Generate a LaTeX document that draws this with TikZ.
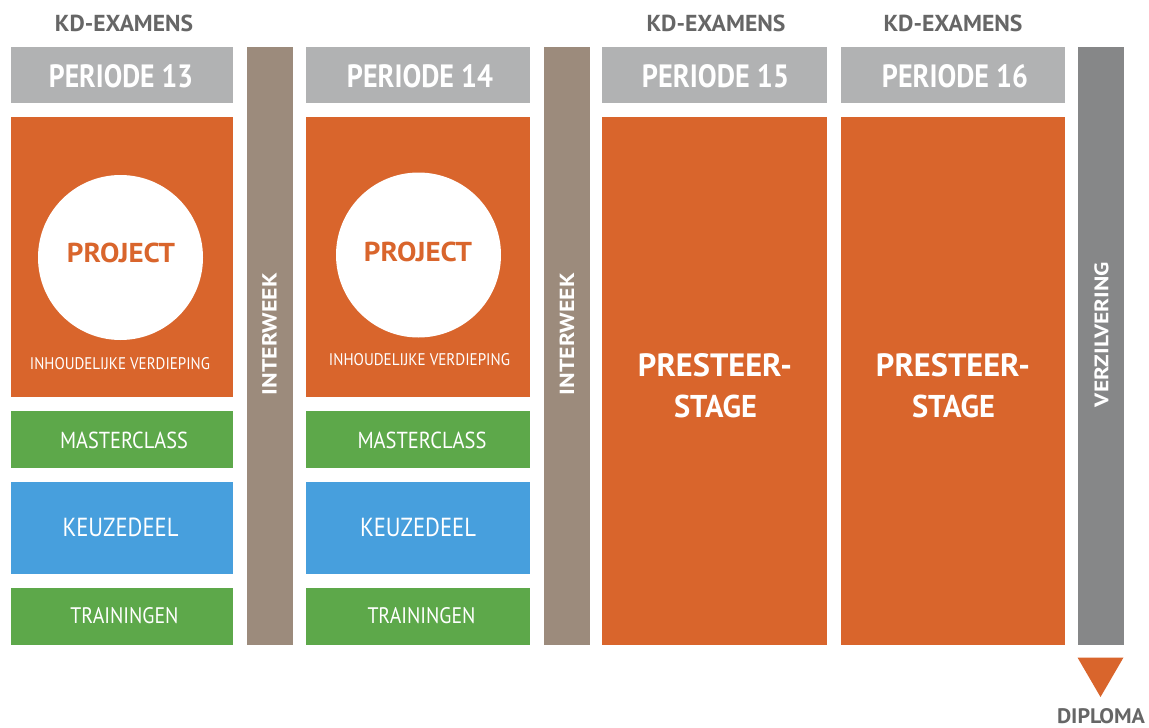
\documentclass[tikz,border=0pt]{standalone}
\usepackage{fontspec}
\usepackage{graphicx}
\setmainfont{PT Sans}
\definecolor{org}{HTML}{D9652C}
\definecolor{hdr}{HTML}{B1B2B3}
\definecolor{grn}{HTML}{5DA84A}
\definecolor{blu}{HTML}{479FDD}
\definecolor{brn}{HTML}{9C8B7C}
\definecolor{dgr}{HTML}{868788}
\definecolor{txg}{HTML}{666666}
\newcommand{\myfit}[3]{\resizebox{#1pt}{#2pt}{#3}}
\begin{document}
\begin{tikzpicture}[x=1pt,y=-1pt,
  box/.style={anchor=north west,inner sep=0pt,outer sep=0pt,text=white,align=center},
  lbl/.style={inner sep=0pt,outer sep=0pt,text=white,font=\fontsize{20}{22}\selectfont},
  blbl/.style={lbl,font=\bfseries\fontsize{20}{22}\selectfont},
  kd/.style={blbl,text=txg},
  hdrbox/.style={box,fill=hdr,minimum height=56pt},
  bar/.style={box,minimum width=46pt,minimum height=598pt},
  circ/.style={circle,fill=white,inner sep=0pt,minimum size=165pt},
  stage/.style={box,fill=org,minimum height=528pt}
]
\useasboundingbox[fill=white] (0,0) rectangle (1149,728);
% KD-EXAMENS labels
\node[kd] (kd13) at (124,23.5) {\myfit{138}{16.5}{KD-EXAMENS}};
\node[kd] (kd15) at (716,23.5) {\myfit{139}{16.5}{KD-EXAMENS}};
\node[kd] (kd16) at (953,23.5) {\myfit{139}{16.5}{KD-EXAMENS}};
% headers
\node[hdrbox,minimum width=222pt] (p13) at (11,47) {};
\node[hdrbox,minimum width=224pt] (p14) at (306,47) {};
\node[hdrbox,minimum width=225pt] (p15) at (602,47) {};
\node[hdrbox,minimum width=224pt] (p16) at (841,47) {};
\node[blbl] (p13t) at (121,76.5) {\myfit{144}{23}{PERIODE 13}};
\node[blbl] (p14t) at (420,76.5) {\myfit{146}{23}{PERIODE 14}};
\node[blbl] (p15t) at (715.5,76.5) {\myfit{147}{23}{PERIODE 15}};
\node[blbl] (p16t) at (955,76.5) {\myfit{146}{23}{PERIODE 16}};
% bars
\node[bar,fill=brn] (iw1) at (247,47) {};
\node[bar,fill=brn] (iw2) at (544,47) {};
\node[bar,fill=dgr] (vz) at (1078,47) {};
\node[blbl,rotate=90] (iw1t) at (269.5,334) {\myfit{122}{14.5}{INTERWEEK}};
\node[blbl,rotate=90] (iw2t) at (567,334) {\myfit{122}{14.5}{INTERWEEK}};
\node[blbl,rotate=90] (vzt) at (1101.5,334.5) {\myfit{145}{14}{VERZILVERING}};
% project boxes
\node[box,fill=org,minimum width=222pt,minimum height=280pt] (pr13) at (11,117) {};
\node[box,fill=org,minimum width=224pt,minimum height=280pt] (pr14) at (306,117) {};
\node[circ] (c13) at (120.5,257.5) {};
\node[circ] (c14) at (418.5,255) {};
\node[blbl,text=org] (c13t) at (121,252.5) {\myfit{108}{19.5}{PROJECT}};
\node[blbl,text=org] (c14t) at (418,252) {\myfit{108}{19.5}{PROJECT}};
\node[lbl] (iv13) at (120,364) {\myfit{180}{12}{INHOUDELIJKE VERDIEPING}};
\node[lbl] (iv14) at (419.5,360) {\myfit{181}{12}{INHOUDELIJKE VERDIEPING}};
% column 13 blocks
\node[box,fill=grn,minimum width=222pt,minimum height=57pt] (mc13) at (11,411) {};
\node[box,fill=blu,minimum width=222pt,minimum height=92pt] (kz13) at (11,482) {};
\node[box,fill=grn,minimum width=222pt,minimum height=57pt] (tr13) at (11,588) {};
\node[lbl] (mc13t) at (124,440) {\myfit{128}{16.5}{MASTERCLASS}};
\node[lbl] (kz13t) at (120.5,527.5) {\myfit{116}{18.5}{KEUZEDEEL}};
\node[lbl] (tr13t) at (124.5,615.5) {\myfit{108}{16}{TRAININGEN}};
% column 14 blocks
\node[box,fill=grn,minimum width=224pt,minimum height=57pt] (mc14) at (306,411) {};
\node[box,fill=blu,minimum width=224pt,minimum height=92pt] (kz14) at (306,482) {};
\node[box,fill=grn,minimum width=224pt,minimum height=57pt] (tr14) at (306,588) {};
\node[lbl] (mc14t) at (422,440) {\myfit{129}{16.5}{MASTERCLASS}};
\node[lbl] (kz14t) at (418,527.5) {\myfit{116}{18.5}{KEUZEDEEL}};
\node[lbl] (tr14t) at (421.5,615.5) {\myfit{108}{16}{TRAININGEN}};
% stage boxes
\node[stage,minimum width=225pt] (st15) at (602,117) {};
\node[stage,minimum width=224pt] (st16) at (841,117) {};
\node[blbl] (st15a) at (715,365.5) {\myfit{154}{23}{PRESTEER-}};
\node[blbl] (st15b) at (715.5,406) {\myfit{83}{22.5}{STAGE}};
\node[blbl] (st16a) at (953,365.5) {\myfit{154}{23}{PRESTEER-}};
\node[blbl] (st16b) at (953.5,406) {\myfit{83}{22.5}{STAGE}};
% diploma
\fill[org] (1077.5,657.5) -- (1123.5,657.5) -- (1100.5,697) -- cycle;
\node[kd] (dip) at (1101,716.5) {\myfit{88}{15}{DIPLOMA}};
\end{tikzpicture}
\end{document}
